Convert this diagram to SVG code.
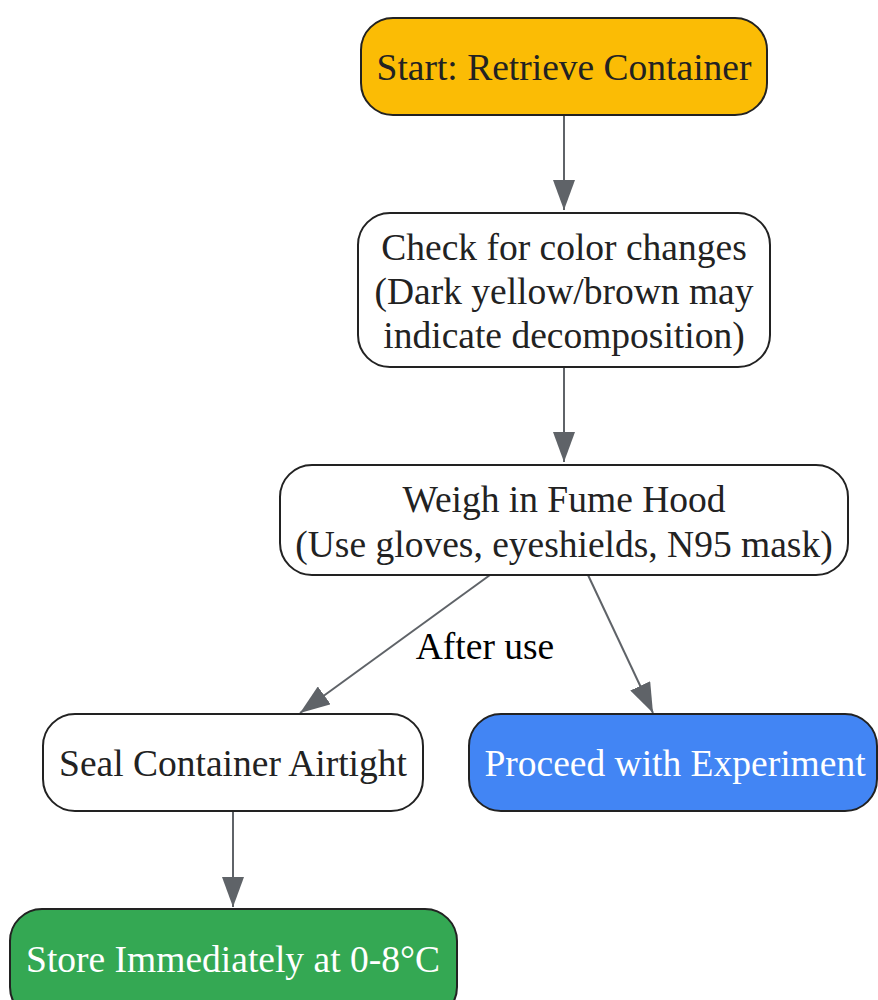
<svg xmlns="http://www.w3.org/2000/svg" width="878" height="1000" viewBox="0 0 878 1000">
<style>
.n{stroke:#222;stroke-width:2}
.t{font-family:"Liberation Serif",serif;font-size:37.5px;fill:#222;text-anchor:middle}
.w{fill:#fff}
.e{stroke:#5f6368;stroke-width:2;fill:none}
.l{font-family:"Liberation Serif",serif;font-size:37.5px;fill:#000;text-anchor:middle}
</style>
<defs>
<marker id="ah" markerWidth="30" markerHeight="22" refX="30" refY="11" orient="auto" markerUnits="userSpaceOnUse" viewBox="0 0 30 22">
<path d="M0,0 L30,11 L0,22 z" fill="#5f6368"/>
</marker>
</defs>
<g id="edges">
<line class="e" x1="564" y1="115" x2="564" y2="210" marker-end="url(#ah)"/>
<line class="e" x1="564" y1="367" x2="564" y2="462" marker-end="url(#ah)"/>
<line class="e" x1="490" y1="575" x2="300" y2="713" marker-end="url(#ah)"/>
<text class="l" x="485" y="659">After use</text>
<line class="e" x1="588" y1="575" x2="653" y2="713" marker-end="url(#ah)"/>
<line class="e" x1="233" y1="811" x2="233" y2="907" marker-end="url(#ah)"/>
</g>
<g id="start">
<rect class="n" x="361" y="18" width="406" height="97" rx="32" fill="#FBBC05"/>
<text class="t" x="564" y="80">Start: Retrieve Container</text>
</g>
<g id="check">
<rect class="n" x="358" y="213" width="412" height="154" rx="32" fill="#fff"/>
<text class="t" x="564" y="260">Check for color changes</text>
<text class="t" x="564" y="304">(Dark yellow/brown may</text>
<text class="t" x="564" y="348">indicate decomposition)</text>
</g>
<g id="weigh">
<rect class="n" x="280" y="465" width="568" height="110" rx="32" fill="#fff"/>
<text class="t" x="564" y="512">Weigh in Fume Hood</text>
<text class="t" x="564" y="557">(Use gloves, eyeshields, N95 mask)</text>
</g>
<g id="seal">
<rect class="n" x="43" y="714" width="380" height="97" rx="32" fill="#fff"/>
<text class="t" x="233" y="776">Seal Container Airtight</text>
</g>
<g id="proceed">
<rect class="n" x="469" y="714" width="408" height="97" rx="32" fill="#4285F4"/>
<text class="t w" x="675" y="776">Proceed with Experiment</text>
</g>
<g id="store">
<rect class="n" x="10" y="909" width="447" height="110" rx="32" fill="#34A853"/>
<text class="t w" x="233" y="972">Store Immediately at 0-8°C</text>
</g>
</svg>
